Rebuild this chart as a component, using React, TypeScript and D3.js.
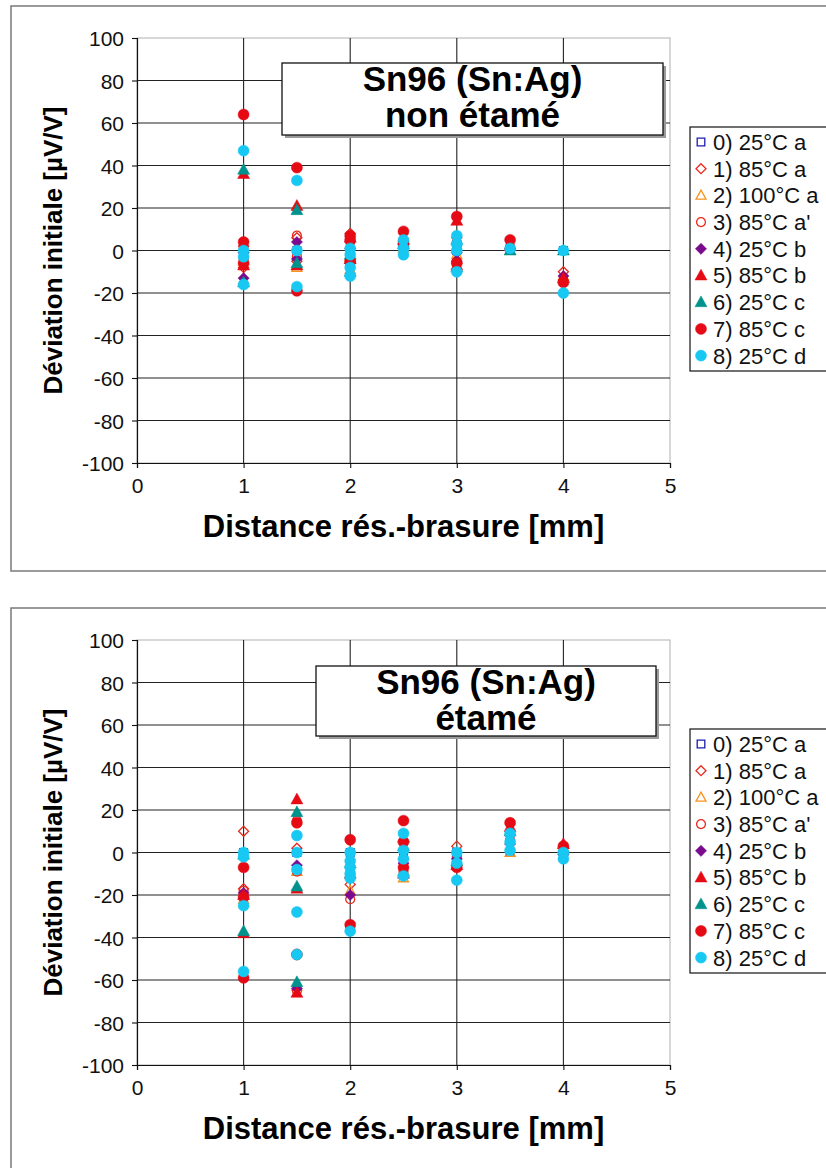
import React, { useRef, useEffect } from 'react'
import * as d3 from 'd3'

// tick values
const xTicks = [0, 1, 2, 3, 4, 5]
const yTicks = [-100, -80, -60, -40, -20, 0, 20, 40, 60, 80, 100]
const gridX = [1, 2, 3, 4]

const seriesNames = ['0) 25°C a', '1) 85°C a', '2) 100°C a', "3) 85°C a'", '4) 25°C b', '5) 85°C b', '6) 25°C c', '7) 85°C c', '8) 25°C d']

// Sn96 non étamé  [distance mm, déviation µV/V]
const top0 = [[1, 0], [1, -2], [1.5, 0], [2, 0], [2, -3], [2.5, 0], [3, 0], [3, 2], [3.5, 0], [4, 0]]
const top1 = [[1, 2], [1, -8], [1.5, 6], [1.5, -5], [2, 8], [2, -6], [2.5, 3], [3, 6], [3, -6], [3.5, 1], [4, -10]]
const top2 = [[1, -5], [1, -14], [1.5, -8], [1.5, 2], [2, -3], [2, -9], [2.5, 1], [3, -2], [3, -8], [3.5, 0], [4, -12]]
const top3 = [[1, -4], [1, 2], [1.5, 7], [1.5, -3], [2, -5], [2, 4], [2.5, 2], [3, -5], [3, 4], [3.5, 2], [4, -14]]
const top4 = [[1, -13], [1, -1], [1.5, 4], [1.5, -4], [2, -6], [2, 1], [2.5, 2], [3, -5], [3, -1], [3.5, 1], [4, -12]]
const top5 = [[1, 36], [1, -7], [1.5, 21], [1.5, -7], [2, -4], [2, 6], [2.5, 5], [3, -7], [3, 14], [3.5, 2], [4, -13]]
const top6 = [[1, 38], [1, -15], [1.5, 19], [1.5, -6], [2, -2], [2, -10], [2.5, 3], [3, -8], [3, 5], [3.5, 0], [4, 0]]
const top7 = [[1, 64], [1, 4], [1, -6], [1.5, 39], [1.5, -19], [2, 7], [2, 5], [2, -5], [2.5, 9], [2.5, 4], [3, 16], [3, -6], [3.5, 5], [4, -15]]
const top8 = [[1, 47], [1, 0], [1, -3], [1, -16], [1.5, 33], [1.5, 0], [1.5, -17], [2, 1], [2, -2], [2, -8], [2, -12], [2.5, 5], [2.5, 1], [2.5, -2], [3, 7], [3, 3], [3, 0], [3, -10], [3.5, 1], [4, 0], [4, -20]]

// Sn96 étamé
const bot0 = [[1, 0], [1.5, 0], [2, 0], [2.5, 0], [3, 0], [3.5, 0], [4, 0]]
const bot1 = [[1, 10], [1, -17], [1.5, 2], [1.5, -48], [2, -15], [2.5, -3], [3, 3], [3.5, 8], [4, 2]]
const bot2 = [[1, -22], [1.5, -9], [1.5, -63], [2, -18], [2.5, -12], [3, -4], [3.5, 0], [4, 1]]
const bot3 = [[1, -18], [1.5, 15], [1.5, -9], [1.5, -65], [2, -22], [2, -35], [2.5, -9], [3, -2], [3.5, 6], [4, 0]]
const bot4 = [[1, -19], [1.5, -6], [1.5, -64], [2, -20], [2.5, -5], [3, -3], [3.5, 4], [4, -1]]
const bot5 = [[1, -38], [1, -20], [1.5, 25], [1.5, -66], [1.5, -17], [2, -10], [2.5, 7], [2.5, -10], [3, -6], [3.5, 12], [4, 4]]
const bot6 = [[1, -37], [1, -1], [1.5, 19], [1.5, -16], [1.5, -61], [2, -5], [2.5, 3], [2.5, -9], [3, -4], [3.5, 10], [4, 2]]
const bot7 = [[1, -7], [1, -21], [1, -59], [1.5, 14], [1.5, -48], [2, 6], [2, -34], [2.5, 15], [2.5, 5], [2.5, -7], [3, -7], [3.5, 14], [4, 3]]
const bot8 = [[1, 0], [1, -2], [1, -25], [1, -56], [1.5, 8], [1.5, 0], [1.5, -8], [1.5, -28], [1.5, -48], [2, 0], [2, -4], [2, -7], [2, -10], [2, -12], [2, -37], [2.5, 9], [2.5, 1], [2.5, -3], [2.5, -11], [3, 0], [3, -5], [3, -13], [3.5, 9], [3.5, 5], [3.5, 1], [4, 0], [4, -3]]

const panels = [
    { oy: 0, title: ['Sn96 (Sn:Ag)', 'non étamé'], box: [282, 63, 381, 72], series: [top0, top1, top2, top3, top4, top5, top6, top7, top8] },
    { oy: 602, title: ['Sn96 (Sn:Ag)', 'étamé'], box: [316, 64, 340, 70], series: [bot0, bot1, bot2, bot3, bot4, bot5, bot6, bot7, bot8] },
]

// marker style per series: shape, filled, colour
const markers = [
    { shape: 'square', fill: false, color: '#1c1cb0' },
    { shape: 'diamond', fill: false, color: '#e8291c' },
    { shape: 'triangle', fill: false, color: '#f7941d' },
    { shape: 'circle', fill: false, color: '#e8291c' },
    { shape: 'diamond', fill: true, color: '#7a0a8e' },
    { shape: 'triangle', fill: true, color: '#e50a14' },
    { shape: 'triangle', fill: true, color: '#00928c' },
    { shape: 'circle', fill: true, color: '#e50a14' },
    { shape: 'circle', fill: true, color: '#16c8f2' },
]

const markerPath = (shape: string, filled: boolean) => {
    if (shape === 'square') return 'M-3.8,-3.8H3.8V3.8H-3.8Z'
    if (shape === 'diamond') {
        const r = filled ? 5.6 : 5
        return `M0,${-r}L${r},0L0,${r}L${-r},0Z`
    }
    if (shape === 'triangle') {
        const s = filled ? 6 : 5
        return `M0,${-s * 1.05}L${s},${s * 0.75}L${-s},${s * 0.75}Z`
    }
    return d3.symbol(d3.symbolCircle, filled ? 95 : 62)()
}

const App = () => {
    const element = useRef(null)

    useEffect(() => {
        const root = d3.select(element.current)
        root.selectAll('*').remove()
        const font = 'Liberation Sans, Arial, Helvetica, sans-serif'

        const x = d3.scaleLinear().domain([0, 5]).range([137, 670])

        panels.forEach(p => {
            const g = root.append('g').attr('transform', `translate(0,${p.oy})`)
            const y = d3.scaleLinear().domain([-100, 100]).range([463, 38])

            // panel frame
            g.append('rect')
                .attr('x', 11).attr('y', 6)
                .attr('width', 840).attr('height', p.oy === 0 ? 565 : 600)
                .attr('fill', 'none').attr('stroke', '#7a7a7a').attr('stroke-width', 1.5)

            // plot border (light)
            g.append('rect')
                .attr('x', x(0)).attr('y', y(100))
                .attr('width', x(5) - x(0)).attr('height', y(-100) - y(100))
                .attr('fill', 'none').attr('stroke', '#b0b0b0').attr('stroke-width', 1)

            // grid
            g.selectAll('.hg').data(yTicks.filter(d => d > -100 && d < 100)).enter()
                .append('line')
                .attr('x1', x(0)).attr('x2', x(5))
                .attr('y1', d => y(d)).attr('y2', d => y(d))
                .attr('stroke', '#222').attr('stroke-width', 1.1)
            g.selectAll('.vg').data(gridX).enter()
                .append('line')
                .attr('x1', d => x(d)).attr('x2', d => x(d))
                .attr('y1', y(100)).attr('y2', y(-100))
                .attr('stroke', '#222').attr('stroke-width', 1.1)

            // axes
            const fmt = (d: number) => String(d)
            const yAxis = d3.axisLeft(y).tickValues(yTicks).tickSize(5).tickPadding(8).tickFormat(fmt)
            const xAxis = d3.axisBottom(x).tickValues(xTicks).tickSize(5).tickPadding(10).tickFormat(fmt)
            const ya = g.append('g').attr('transform', `translate(${x(0)},0)`).call(yAxis)
            const xa = g.append('g').attr('transform', `translate(0,${y(-100)})`).call(xAxis)
            ;[ya, xa].forEach(a => {
                a.select('.domain').attr('stroke', '#111').attr('stroke-width', 1.2)
                a.selectAll('.tick line').attr('stroke', '#111').attr('stroke-width', 1.1)
                a.selectAll('.tick text').attr('font-family', font).attr('font-size', 21).attr('fill', '#111')
            })
            ya.selectAll('.tick text').attr('dy', '0.36em')
            xa.selectAll('.tick text').attr('dy', '0.72em')

            // axis titles
            g.append('text')
                .attr('x', (x(0) + x(5)) / 2).attr('y', 537)
                .attr('text-anchor', 'middle')
                .attr('font-family', font).attr('font-weight', 'bold').attr('font-size', 31)
                .text('Distance rés.-brasure [mm]')
            g.append('text')
                .attr('transform', `translate(62,${(y(100) + y(-100)) / 2}) rotate(-90)`)
                .attr('text-anchor', 'middle')
                .attr('font-family', font).attr('font-weight', 'bold').attr('font-size', 26)
                .text('Déviation initiale [µV/V]')

            // points
            p.series.forEach((data, i) => {
                const m = markers[i]
                g.append('g').selectAll('path').data(data).enter()
                    .append('path')
                    .attr('d', markerPath(m.shape, m.fill))
                    .attr('transform', d => `translate(${x(d[0])},${y(d[1])})`)
                    .attr('fill', m.fill ? m.color : 'none')
                    .attr('stroke', m.color)
                    .attr('stroke-width', m.fill ? 0.5 : 1.3)
            })

            // title box
            const [bx, by, bw, bh] = p.box
            g.append('rect')
                .attr('x', bx + 3).attr('y', by + 3).attr('width', bw).attr('height', bh)
                .attr('fill', '#9a9a9a')
            g.append('rect')
                .attr('x', bx).attr('y', by).attr('width', bw).attr('height', bh)
                .attr('fill', '#fff').attr('stroke', '#111').attr('stroke-width', 1.3)
            p.title.forEach((t, k) => {
                g.append('text')
                    .attr('x', bx + bw / 2).attr('y', by + 28 + k * 36)
                    .attr('text-anchor', 'middle')
                    .attr('font-family', font).attr('font-weight', 'bold').attr('font-size', 35)
                    .text(t)
            })

            // legend
            const lg = g.append('g').attr('transform', 'translate(690,127)')
            lg.append('rect')
                .attr('width', 160).attr('height', 244)
                .attr('fill', '#fff').attr('stroke', '#111').attr('stroke-width', 1.2)
            seriesNames.forEach((name, i) => {
                const m = markers[i]
                const cy = 15 + i * 26.7
                lg.append('path')
                    .attr('d', markerPath(m.shape, m.fill))
                    .attr('transform', `translate(11,${cy})`)
                    .attr('fill', m.fill ? m.color : 'none')
                    .attr('stroke', m.color)
                    .attr('stroke-width', m.fill ? 0.5 : 1.3)
                lg.append('text')
                    .attr('x', 23).attr('y', cy).attr('dy', '0.36em')
                    .attr('font-family', font).attr('font-size', 22).attr('fill', '#111')
                    .text(name)
            })
        })
    }, [])

    return (
        <div style={{ position: 'absolute', left: 0, top: 0 }}>
            <svg ref={element} width={826} height={1168} style={{ display: 'block', background: '#fff' }}></svg>
        </div>
    )
}

export default App
